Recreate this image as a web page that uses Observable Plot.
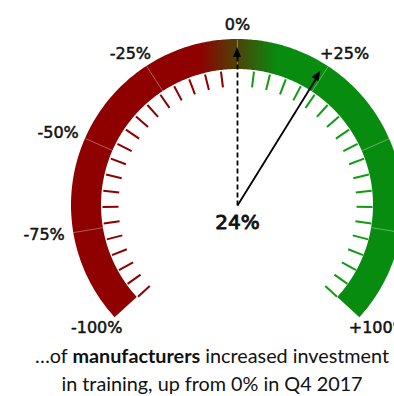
<!DOCTYPE html>
<html>
<head>
<meta charset="utf-8">
<script src="https://cdn.jsdelivr.net/npm/d3@7"></script>
<script src="https://cdn.jsdelivr.net/npm/@observablehq/plot@0.6"></script>
<style>
  body { margin: 0; background: #fff; }
  #wrap { position: relative; width: 394px; height: 396px; overflow: hidden; }
  #cap { position: absolute; left: 0; top: 341px; width: 424px; text-align: center;
         font-family: Lato, "Open Sans", sans-serif; font-size: 19.8px; line-height: 28px; color: #111; }
  #cap b { font-weight: 700; }
</style>
</head>
<body>
<div id="wrap">
  <div id="chart"></div>
  <div id="cap">…of <b>manufacturers</b> increased investment<br>in training, up from 0% in Q4 2017</div>
</div>
<script>
// ---- data ----
const currentValue = 24;      // needle (solid)
const previousValue = 0;      // reference needle (dashed)
const labelValues = [-100, -75, -50, -25, 0, 25, 100];
const labelTexts  = ["-100%", "-75%", "-50%", "-25%", "0%", "+25%", "+100%"];
const dividerValues = [-75, -50, -25, 0, 25, 50, 75];
const negTicks = [-5.3, -10.5, -15.8, -21.1, -26.3, -31.6, -36.8, -42.1, -47.4, -52.6, -57.9, -63.2, -68.4, -73.7, -78.9, -84.2, -89.5, -94.7, -100];
const posTicks = [5.3, 10.5, 15.8, 21.1, 26.3, 31.6, 36.8, 42.1, 47.4, 52.6, 57.9, 63.2, 68.4, 73.7, 78.9, 84.2, 89.5, 94.7, 100];
const valueLabel = "24%";

// ---- geometry helpers ----
const RED = "#8f0000", GREEN = "#078c10";
const SWEEP = 132.5; // degrees for 100%
const ang = v => v / 100 * SWEEP * Math.PI / 180;
const pt = (v, r) => [r * Math.sin(ang(v)), r * Math.cos(ang(v))];
const R_IN = 136, R_OUT = 166, T_IN = 119, T_OUT = 135, NEEDLE = 158;

// band outline (one polygon, gradient fill)
const band = [];
for (let v = -100; v <= 100; v += 0.5) {
  const a = pt(v, R_IN), b = pt(v, R_OUT);
  band.push({x1: a[0], y1: a[1], x2: b[0], y2: b[1]});
}
const radial = (vals, r1, r2) => vals.map(v => {
  const a = pt(v, r1), b = pt(v, r2);
  return {v, x1: a[0], y1: a[1], x2: b[0], y2: b[1]};
});
const head = (v) => {
  const t = ang(v);
  const tip = pt(v, NEEDLE), bc = pt(v, NEEDLE - 10);
  const px = Math.cos(t), py = -Math.sin(t), w = 4;
  return [
    {id: v, x1: bc[0] + w * px, y1: bc[1] + w * py, x2: bc[0] - w * px, y2: bc[1] - w * py},
    {id: v, x1: tip[0], y1: tip[1], x2: tip[0], y2: tip[1]}
  ];
};
const labels = labelValues.map((v, i) => ({
  text: labelTexts[i],
  x: (Math.abs(v) === 100 ? 191 : 196) * Math.sin(ang(v)),
  y: 181 * Math.cos(ang(v))
}));

const gradientDefs = () => {
  const defs = d3.create("svg:defs");
  const g = defs.append("linearGradient").attr("id", "gaugeGrad")
    .attr("gradientUnits", "userSpaceOnUse")
    .attr("x1", 199).attr("x2", 278).attr("y1", 0).attr("y2", 0);
  g.append("stop").attr("offset", 0).attr("stop-color", RED);
  g.append("stop").attr("offset", 1).attr("stop-color", GREEN);
  return defs.node();
};

const chart = Plot.plot({
  width: 394,
  height: 345,
  margin: 0,
  x: {domain: [-237, 157], axis: null},
  y: {domain: [-140, 205], axis: null},
  marks: [
    gradientDefs,
    Plot.area(band, {x1: "x1", y1: "y1", x2: "x2", y2: "y2", fill: "url(#gaugeGrad)"}),
    Plot.link(radial(dividerValues, R_IN, R_OUT), {x1: "x1", y1: "y1", x2: "x2", y2: "y2", stroke: "white", strokeOpacity: 0.35, strokeWidth: 1}),
    Plot.link(radial(negTicks, T_IN, T_OUT), {x1: "x1", y1: "y1", x2: "x2", y2: "y2", stroke: "#8b0000", strokeWidth: 2}),
    Plot.link(radial(posTicks, T_IN, T_OUT), {x1: "x1", y1: "y1", x2: "x2", y2: "y2", stroke: "#129a12", strokeWidth: 2}),
    Plot.link(radial([previousValue], 0, NEEDLE - 8), {x1: "x1", y1: "y1", x2: "x2", y2: "y2", stroke: "black", strokeWidth: 1.8, strokeDasharray: "5,3"}),
    Plot.link(radial([currentValue], 0, NEEDLE - 8), {x1: "x1", y1: "y1", x2: "x2", y2: "y2", stroke: "black", strokeWidth: 1.8}),
    Plot.area([...head(previousValue), ...head(currentValue)], {x1: "x1", y1: "y1", x2: "x2", y2: "y2", z: "id", fill: "black"}),
    Plot.text(labels, {x: "x", y: "y", text: "text", fontFamily: "DejaVu Sans", fontSize: 16, fill: "#111", stroke: "#111", strokeWidth: 0.5}),
    Plot.text([valueLabel], {x: 0, y: -17.5, text: d => d, fontFamily: "DejaVu Sans", fontSize: 20, fill: "#111", stroke: "#111", strokeWidth: 0.9})
  ]
});
document.getElementById("chart").appendChild(chart);
</script>
</body>
</html>
